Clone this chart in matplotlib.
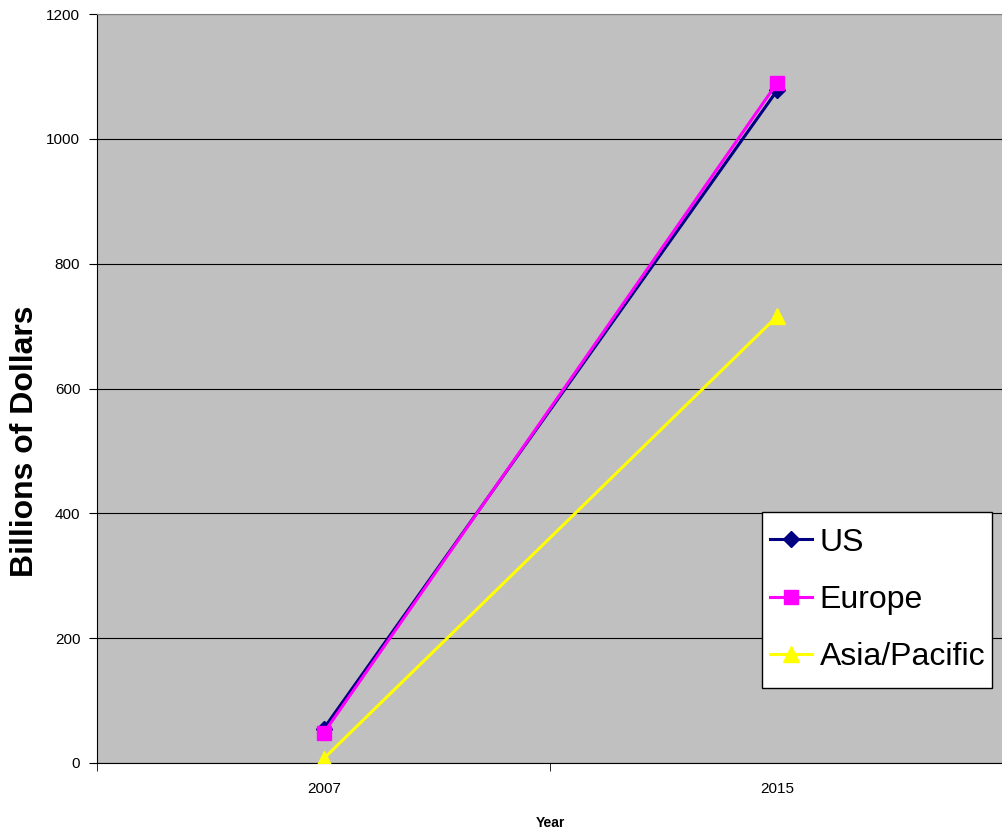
import matplotlib.pyplot as plt
from matplotlib.patches import Rectangle
from matplotlib.ticker import MultipleLocator, FixedLocator

plt.rcParams['font.family'] = ['Liberation Sans', 'DejaVu Sans']

years = ['2007', '2015']
us = [55, 1078]
europe = [48, 1090]
asia = [7, 716]

fig = plt.figure(figsize=(10.03, 8.32), dpi=100)
ax = fig.add_axes([0.0967, 0.083, 0.9043, 0.9])
ax.set_facecolor('#C0C0C0')

x = list(range(len(years)))
ax.plot(x, us, '-D', color='#000080', lw=2.2, ms=8, label='US', zorder=3)
ax.plot(x, europe, '-s', color='#FF00FF', lw=2.2, ms=10, label='Europe', zorder=4)
ax.plot(x, asia, '-^', color='#FFFF00', lw=2.2, ms=11, label='Asia/Pacific', zorder=5)

ax.set_xlim(-0.5, 1.5)
ax.set_ylim(0, 1200)
ax.yaxis.set_major_locator(MultipleLocator(200))
ax.set_xticks(x)
ax.set_xticklabels(years)
ax.tick_params(axis='x', which='major', length=0, pad=14, labelsize=11)
ax.xaxis.set_minor_locator(FixedLocator([-0.5, 0.5, 1.5]))
ax.tick_params(axis='x', which='minor', length=6, direction='out')
ax.tick_params(axis='y', length=6, direction='out', labelsize=11, pad=6)
ax.grid(axis='y', color='black', lw=0.8)
ax.set_axisbelow(True)

ax.spines['top'].set_color('#808080')
ax.spines['right'].set_visible(False)

ax.set_ylabel('Billions of Dollars', fontsize=23, fontweight='bold')
ax.yaxis.set_label_coords(-0.063, 0.43)
ax.set_xlabel('Year', fontsize=10, fontweight='bold', labelpad=14)

# legend box drawn separately so the padding can match the original
box = Rectangle((762 / 1003, 1 - 688 / 832), 230 / 1003, 176 / 832,
                transform=fig.transFigure, facecolor='white',
                edgecolor='black', lw=1.0, zorder=9, clip_on=False)
ax.add_patch(box)
leg = ax.legend(loc='center left', bbox_to_anchor=(770 / 1003, 1 - 600 / 832),
                bbox_transform=fig.transFigure, borderaxespad=0,
                fontsize=23, frameon=False, handlelength=1.3,
                handletextpad=0.25, labelspacing=0.86, borderpad=0)
leg.set_zorder(10)

fig.savefig('out.png', dpi=100)
